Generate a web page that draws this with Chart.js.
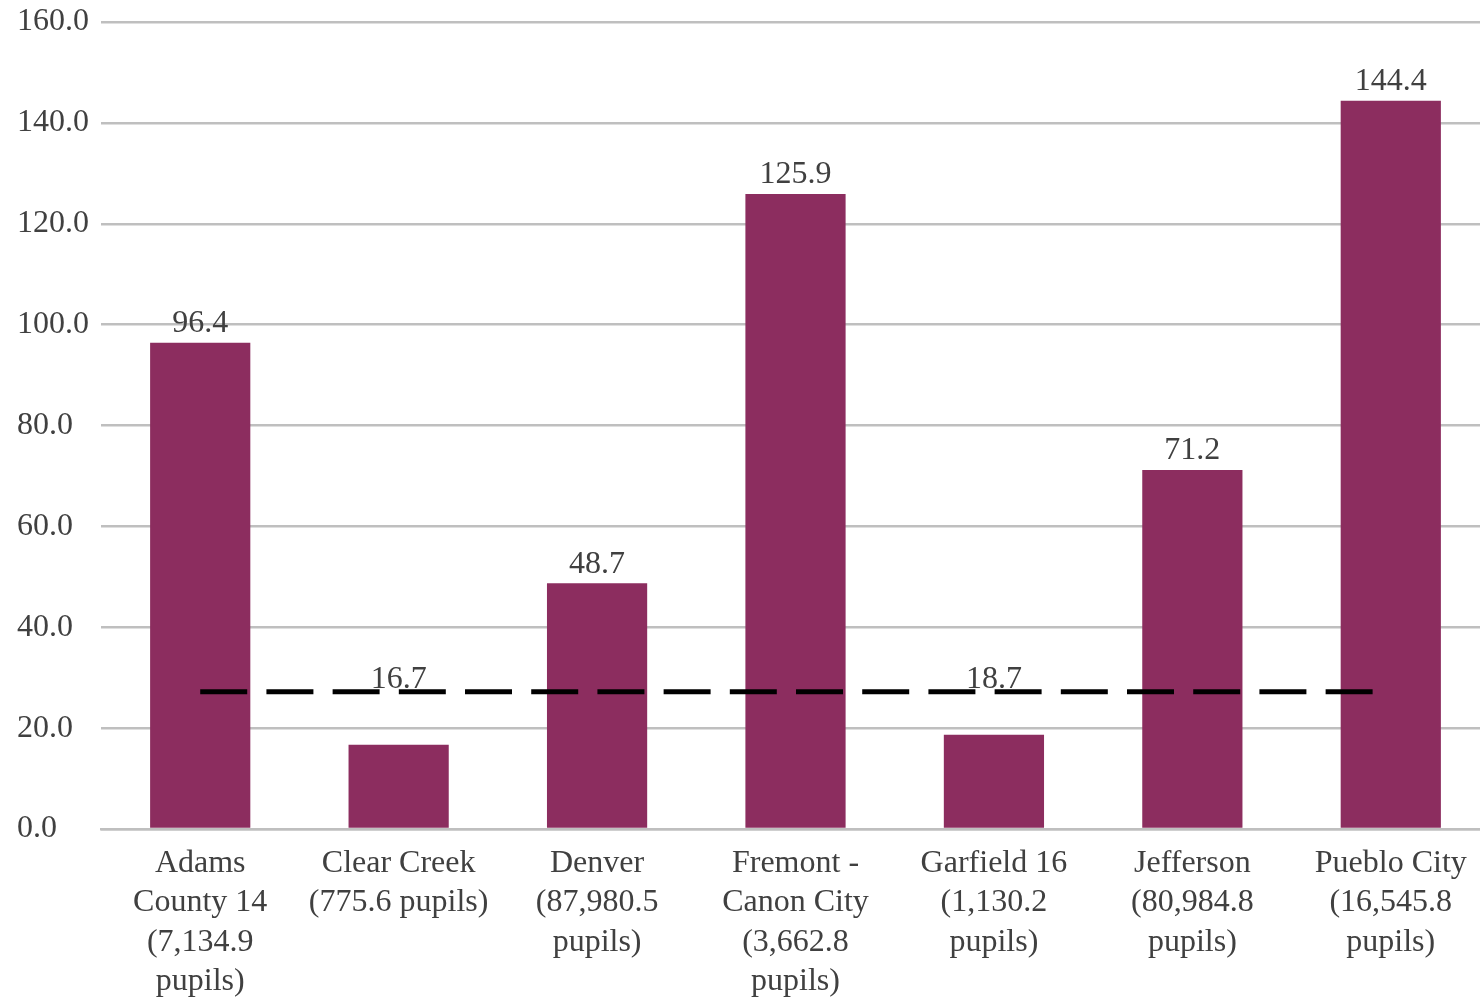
<!DOCTYPE html>
<html>
<head>
<meta charset="utf-8">
<script src="https://cdn.jsdelivr.net/npm/chart.js@4/dist/chart.umd.min.js"></script>
<style>
  html, body { margin: 0; padding: 0; background: #fff; overflow: hidden; }
  #wrap { width: 1490px; height: 999px; }
</style>
</head>
<body>
<div id="wrap"><canvas id="c"></canvas></div>
<script>
// District labels (with pupil counts) along the x axis
const districts = [
  ["Adams", "County 14", "(7,134.9", "pupils)"],
  ["Clear Creek", "(775.6 pupils)"],
  ["Denver", "(87,980.5", "pupils)"],
  ["Fremont -", "Canon City", "(3,662.8", "pupils)"],
  ["Garfield 16", "(1,130.2", "pupils)"],
  ["Jefferson", "(80,984.8", "pupils)"],
  ["Pueblo City", "(16,545.8", "pupils)"]
];
// Rate per district
const rates = [96.4, 16.7, 48.7, 125.9, 18.7, 71.2, 144.4];
// Statewide reference level shown as the dashed line
const stateLevel = [27.2, 27.2, 27.2, 27.2, 27.2, 27.2, 27.2];
// Y axis range
const yMin = 0, yMax = 160, yStep = 20;

const FONT = "'Liberation Serif', 'Times New Roman', serif";
const TEXT = '#404040';
const SIZE = 32;
const GRID = '#BFBFBF';

// Value labels above each bar, kept clear of the dashed line
const valueLabels = {
  id: 'valueLabels',
  afterDatasetsDraw(chart) {
    const ctx = chart.ctx;
    const bars = chart.getDatasetMeta(0).data;
    const yScale = chart.scales.y;
    const lineY = yScale.getPixelForValue(stateLevel[0]);
    ctx.save();
    ctx.font = SIZE + 'px ' + FONT;
    ctx.fillStyle = TEXT;
    ctx.textAlign = 'center';
    ctx.textBaseline = 'middle';
    bars.forEach((bar, i) => {
      let y = bar.y - 19;
      if (bar.y > lineY) y = Math.min(y, lineY - 12);
      ctx.fillText(rates[i].toFixed(1), bar.x, y);
    });
    ctx.restore();
  }
};

new Chart(document.getElementById('c'), {
  data: {
    labels: districts,
    datasets: [
      {
        type: 'bar',
        data: rates,
        backgroundColor: '#8C2D5F',
        borderWidth: 0,
        categoryPercentage: 1,
        barPercentage: 0.505,
        order: 2
      },
      {
        type: 'line',
        data: stateLevel,
        borderColor: '#000',
        borderWidth: 5,
        borderDash: [47, 19.2],
        pointRadius: 0,
        fill: false,
        order: 1
      }
    ]
  },
  options: {
    responsive: true,
    maintainAspectRatio: false,
    animation: false,
    layout: { padding: { top: 0, right: 0, left: 17, bottom: 0 } },
    plugins: { legend: { display: false }, tooltip: { enabled: false } },
    scales: {
      x: {
        grid: { display: false, drawTicks: false },
        border: { display: true, color: GRID, width: 2.5 },
        ticks: {
          color: TEXT,
          font: { family: FONT, size: SIZE, lineHeight: 1.23 },
          padding: 15,
          maxRotation: 0,
          autoSkip: false
        },
        afterFit(scale) { scale.height = 170; }
      },
      y: {
        min: yMin,
        max: yMax,
        grid: { color: GRID, lineWidth: 2.5, drawTicks: false },
        border: { display: false },
        ticks: {
          stepSize: yStep,
          color: TEXT,
          font: { family: FONT, size: SIZE },
          crossAlign: 'far',
          padding: 12,
          callback: v => v.toFixed(1)
        },
        afterFit(scale) {
          scale.width = 84;
          scale.paddingTop = 22;
        }
      }
    }
  },
  plugins: [valueLabels]
});
</script>
</body>
</html>
